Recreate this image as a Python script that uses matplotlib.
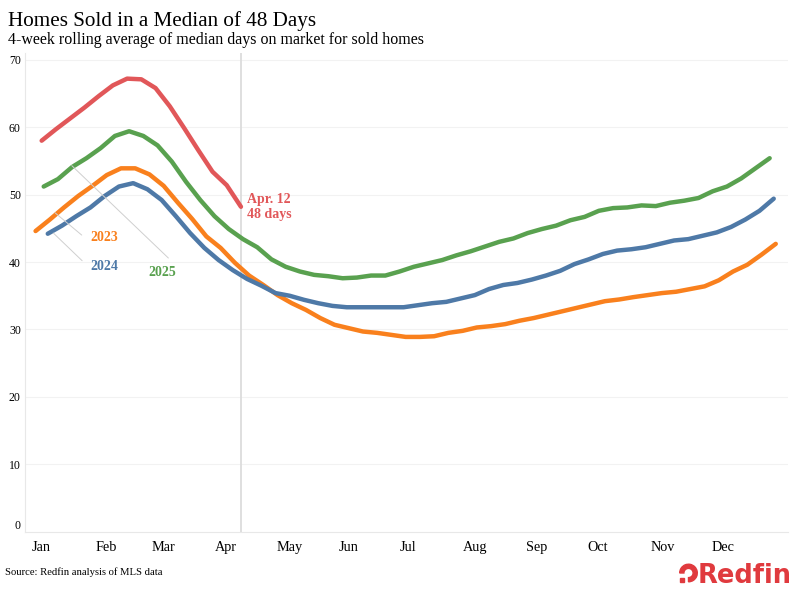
import matplotlib
matplotlib.use("Agg")
import matplotlib.pyplot as plt
import matplotlib.transforms as mtransforms
import pandas as pd
from matplotlib.patches import Wedge, Rectangle

# ---------------- data ----------------
title = "Homes Sold in a Median of 48 Days"
subtitle = "4-week rolling average of median days on market for sold homes"
source = "Source: Redfin analysis of MLS data"

months = ["Jan", "Feb", "Mar", "Apr", "May", "Jun",
          "Jul", "Aug", "Sep", "Oct", "Nov", "Dec"]
yticks = [0, 10, 20, 30, 40, 50, 60, 70]

# first week-ending date of each series (weekly points)
start_2023 = "2023-01-01"
start_2024 = "2024-01-07"
start_2025 = "2025-01-05"
start_2026 = "2026-01-04"

days_2023 = [44.6, 46.3, 48.1, 49.8, 51.3, 52.9, 53.9, 53.9, 53.0, 51.3,
             48.8, 46.4, 43.8, 42.1, 39.9, 38.0, 36.6, 35.1, 33.9, 32.9,
             31.7, 30.7, 30.2, 29.7, 29.5, 29.2, 28.9, 28.9, 29.0, 29.5,
             29.8, 30.3, 30.5, 30.8, 31.3, 31.7, 32.2, 32.7, 33.2, 33.7,
             34.2, 34.45, 34.8, 35.1, 35.4, 35.6, 36.0, 36.4, 37.3, 38.6,
             39.6, 41.1, 42.7]
days_2024 = [44.2, 45.4, 46.8, 48.1, 49.8, 51.2, 51.7, 50.8, 49.2, 46.8,
             44.3, 42.1, 40.3, 38.8, 37.5, 36.5, 35.4, 35.0, 34.4, 33.9,
             33.5, 33.3, 33.3, 33.3, 33.3, 33.3, 33.6, 33.9, 34.1, 34.6,
             35.1, 36.0, 36.6, 36.9, 37.4, 38.0, 38.7, 39.7, 40.4, 41.2,
             41.7, 41.9, 42.2, 42.7, 43.2, 43.4, 43.9, 44.4, 45.2, 46.3,
             47.6, 49.4]
days_2025 = [51.2, 52.3, 54.1, 55.4, 56.9, 58.7, 59.4, 58.7, 57.3, 54.9,
             51.9, 49.2, 46.8, 44.9, 43.4, 42.2, 40.4, 39.3, 38.6, 38.1,
             37.9, 37.6, 37.7, 38.0, 38.0, 38.6, 39.3, 39.8, 40.3, 41.0,
             41.6, 42.3, 43.0, 43.5, 44.3, 44.9, 45.4, 46.2, 46.7, 47.6,
             48.0, 48.1, 48.4, 48.3, 48.8, 49.1, 49.5, 50.5, 51.2, 52.4,
             53.9, 55.4]
days_2026 = [58.0, 59.7, 61.3, 62.9, 64.6, 66.2, 67.2, 67.1, 65.8, 63.1,
             59.9, 56.6, 53.4, 51.4, 48.2]

colors = {"2023": "#F9801D", "2024": "#4E79A7", "2025": "#59A14F", "2026": "#E15759"}

# ---------------- helpers ----------------
def day_of_year(start, n):
    d = pd.date_range(start, periods=n, freq="7D")
    jan1 = pd.Timestamp(year=d[0].year, month=1, day=1)
    return (d - jan1).days.values, d

serif = "Liberation Serif"
plt.rcParams["font.family"] = [serif, "DejaVu Serif"]

fig = plt.figure(figsize=(7.96, 5.93), dpi=100)
ax = fig.add_axes([0.0314, 0.1032, 0.9585, 0.8074])

series = [("2023", start_2023, days_2023), ("2024", start_2024, days_2024),
          ("2025", start_2025, days_2025), ("2026", start_2026, days_2026)]
last_x = None
last_date = None
for name, st, vals in series:
    x, d = day_of_year(st, len(vals))
    ax.plot(x, vals, color=colors[name], lw=3.2, solid_capstyle="round",
            solid_joinstyle="round", zorder=3)
    if name == "2026":
        last_x, last_date = x[-1], d[-1]

# vertical reference line at latest date
ax.axvline(last_x, color="#DCDCDC", lw=1.3, zorder=1)

# axes styling
ax.set_xlim(-5.2, 370)
ax.set_ylim(0, 71)
month_starts = (pd.date_range("2023-01-01", periods=12, freq="MS")
                - pd.Timestamp("2023-01-01")).days.values
ax.set_xticks(month_starts)
ax.set_xticklabels(months, fontsize=10.3, ha="left")
ax.set_yticks(yticks)
ax.set_yticklabels([str(v) for v in yticks], fontsize=8.5)
ax.tick_params(axis="both", length=0)
ax.tick_params(axis="x", pad=6.5)
ax.tick_params(axis="y", pad=3)
for s in ["top", "right"]:
    ax.spines[s].set_visible(False)
for s in ["left", "bottom"]:
    ax.spines[s].set_color("#E8E8E8")
    ax.spines[s].set_linewidth(0.8)
for v in yticks[1:]:
    ax.axhline(v, color="#F2F2F2", lw=0.8, zorder=0)

# year labels with leader lines
lead = "#CFCFCF"
ax.annotate("", xy=(9.6, 47.3), xytext=(22.7, 44.0),
            arrowprops=dict(arrowstyle="-", color=lead, lw=0.7, shrinkA=0, shrinkB=0))
ax.annotate("", xy=(8.75, 44.3), xytext=(22.9, 40.2),
            arrowprops=dict(arrowstyle="-", color=lead, lw=0.7, shrinkA=0, shrinkB=0))
ax.annotate("", xy=(17.8, 54.3), xytext=(65.3, 40.6),
            arrowprops=dict(arrowstyle="-", color=lead, lw=0.7, shrinkA=0, shrinkB=0))
ax.text(33.7, 43.7, "2023", color=colors["2023"], fontsize=10, fontweight="bold",
        ha="center", va="center")
ax.text(33.7, 39.4, "2024", color=colors["2024"], fontsize=10, fontweight="bold",
        ha="center", va="center")
ax.text(62.4, 38.5, "2025", color=colors["2025"], fontsize=10, fontweight="bold",
        ha="center", va="center")
ax.text(last_x + 3, 48.1,
        f"{last_date.strftime('%b')}. {last_date.day}\n{round(days_2026[-1])} days",
        color=colors["2026"], fontsize=10, fontweight="bold", ha="left", va="center",
        linespacing=1.2)

# titles
fig.text(0.010, 0.956, title, fontsize=15.2, ha="left", va="baseline")
fig.text(0.010, 0.926, subtitle, fontsize=11.55, ha="left", va="baseline")
fig.text(0.006, 0.030, source, fontsize=7.7, ha="left", va="baseline")

# Redfin logo
logo_red = "#E03A3E"
fig.text(0.9945, 0.0165, "Redfin", color=logo_red, fontsize=18.5, fontweight="bold",
         family="DejaVu Sans", ha="right", va="baseline")
tr = fig.dpi_scale_trans
fig.add_artist(Wedge((6.885, 0.200), 0.088, -90, 180, width=0.042,
                     color=logo_red, transform=tr))
fig.add_artist(Rectangle((6.797, 0.112), 0.042, 0.042, color=logo_red, transform=tr))

# draw once so tick objects exist, then nudge labels
fig.canvas.draw()
shift = mtransforms.ScaledTranslation(-3.5 / 100, 0, fig.dpi_scale_trans)
for t in ax.xaxis.get_major_ticks():
    t.label1.set_transform(ax.get_xaxis_transform(which="tick1") + shift
                           + mtransforms.ScaledTranslation(0, -6.5 / 72, fig.dpi_scale_trans))
yt = ax.yaxis.get_major_ticks()[0]
yt.label1.set_va("bottom")

fig.savefig("out.png", dpi=100)
